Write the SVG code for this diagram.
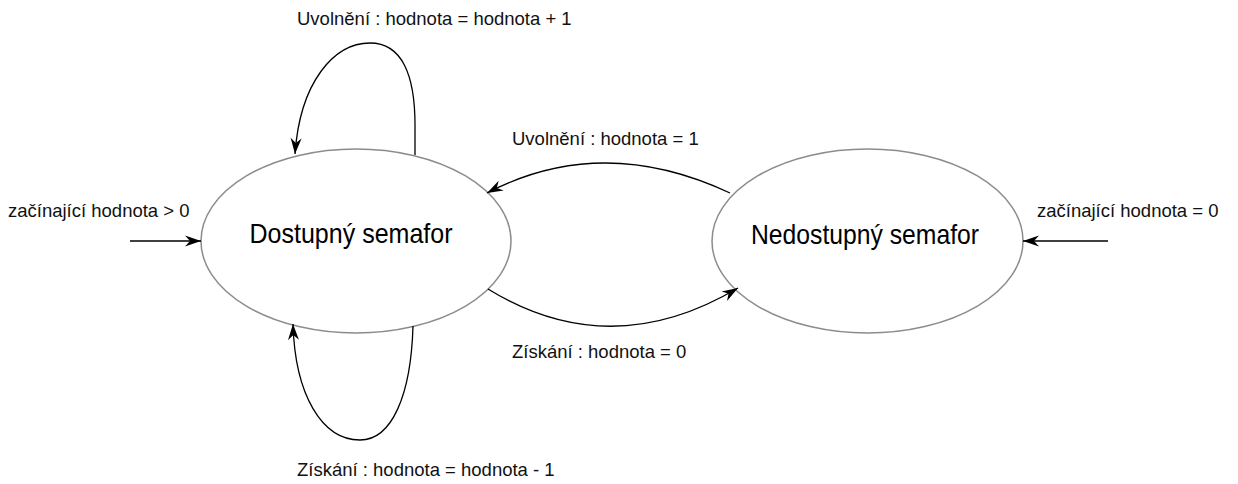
<svg xmlns="http://www.w3.org/2000/svg" width="1238" height="484" viewBox="0 0 1238 484">
  <style>
    .state { fill: #ffffff; stroke: #8c8c8c; stroke-width: 1.5; }
    .state-label { font-family: "Liberation Sans", Arial, sans-serif; font-size: 28px; fill: #000000; text-anchor: middle; }
    .edge { fill: none; stroke: #000000; stroke-width: 1.3; marker-end: url(#arrow); }
    .edge-label { font-family: "Liberation Sans", Arial, sans-serif; font-size: 18.5px; fill: #111111; }
  </style>
  <defs>
    <!-- classic notched arrowhead, tip at the path end -->
    <marker id="arrow" markerUnits="userSpaceOnUse" viewBox="-17 -6 18 12" markerWidth="18" markerHeight="12" refX="0" refY="0" orient="auto">
      <path d="M0,0 L-16,-5.5 L-11,0 L-16,5.5 Z" fill="#000000"/>
    </marker>
  </defs>

  <rect width="1238" height="484" fill="#ffffff"/>

  <!-- states -->
  <g id="dostupny">
    <ellipse class="state" cx="356" cy="241" rx="155" ry="92"/>
    <text class="state-label" x="351" y="243" textLength="203" lengthAdjust="spacingAndGlyphs">Dostupný semafor</text>
  </g>
  <g id="nedostupny">
    <ellipse class="state" cx="867.5" cy="241" rx="155.5" ry="92"/>
    <text class="state-label" x="865" y="244" textLength="228" lengthAdjust="spacingAndGlyphs">Nedostupný semafor</text>
  </g>

  <!-- transitions -->
  <g id="connectors">
    <!-- initial value > 0 -->
    <path class="edge" d="M130,241 L201,241"/>
    <!-- initial value = 0 -->
    <path class="edge" d="M1108,241 L1023,241"/>
    <!-- release on available: self loop above -->
    <path class="edge" d="M415,155 L415,125 C415,75 402,43 370,43 C334,43 300,82 295,154"/>
    <!-- acquire on available: self loop below -->
    <path class="edge" d="M413,326 C411,395 392,440 360,440 C322,440 295,395 293,324"/>
    <!-- release: unavailable -> available -->
    <path class="edge" d="M730,193 Q602,133 487,193"/>
    <!-- acquire: available -> unavailable -->
    <path class="edge" d="M488,289 Q610,364 738,288"/>
  </g>

  <g id="edge-labels">
    <text class="edge-label" x="8" y="217">začínající hodnota &gt; 0</text>
    <text class="edge-label" x="1037" y="217">začínající hodnota = 0</text>
    <text class="edge-label" x="297" y="25">Uvolnění : hodnota = hodnota + 1</text>
    <text class="edge-label" x="297" y="476">Získání : hodnota = hodnota - 1</text>
    <text class="edge-label" x="512" y="145">Uvolnění : hodnota = 1</text>
    <text class="edge-label" x="512" y="358">Získání : hodnota = 0</text>
  </g>
</svg>
